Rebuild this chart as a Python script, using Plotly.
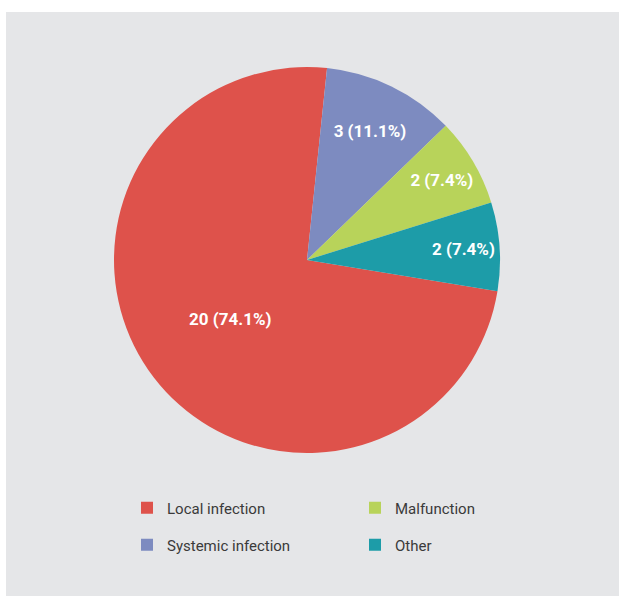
import plotly.graph_objects as go

labels = ["Local infection", "Systemic infection", "Malfunction", "Other"]
values = [20, 3, 2, 2]
colors = ["#de524b", "#7d8bc0", "#b8d35a", "#1d9ca8"]

# legend layout order (two rows)
legend_rows = [["Local infection", "Malfunction"], ["Systemic infection", "Other"]]

W, H = 619, 596
cx, cy, r = 307, 260, 193

fig = go.Figure()
fig.add_trace(go.Pie(
    labels=labels, values=values, sort=False, direction="clockwise",
    rotation=99.3,
    marker=dict(colors=colors, line=dict(width=0)),
    texttemplate="%{value} (%{percent:.1%})",
    textposition="inside", insidetextorientation="horizontal",
    textfont=dict(family="Roboto", size=17, color="white", weight="bold"),
    showlegend=False, hoverinfo="label+value+percent",
    domain=dict(x=[(cx - r) / W, (cx + r) / W], y=[1 - (cy + r) / H, 1 - (cy - r) / H]),
))

color_of = dict(zip(labels, colors))
for ri, row in enumerate(legend_rows):
    for lab in row:
        fig.add_trace(go.Scatter(
            x=[None], y=[None], mode="markers", name=lab,
            marker=dict(symbol="square", size=12, color=color_of[lab]),
            legend="legend" if ri == 0 else "legend2",
        ))

legend_common = dict(
    orientation="h", xanchor="left", yanchor="middle",
    font=dict(family="Roboto", size=15, color="#3a3a3a"),
    bgcolor="rgba(0,0,0,0)", entrywidth=183, entrywidthmode="pixels",
    itemclick=False, itemdoubleclick=False,
)
fig.update_layout(
    width=W, height=H, margin=dict(l=0, r=0, t=0, b=0),
    paper_bgcolor="white", plot_bgcolor="rgba(0,0,0,0)",
    xaxis=dict(visible=False), yaxis=dict(visible=False),
    legend=dict(x=127 / W, y=1 - 508 / H, **legend_common),
    legend2=dict(x=127 / W, y=1 - 545 / H, **legend_common),
    shapes=[dict(type="rect", xref="paper", yref="paper", x0=6 / W, x1=1, y0=0, y1=1 - 12 / H,
                 fillcolor="#e5e6e8", line=dict(width=0), layer="below")],
)

fig.write_html("out.html", config={"displayModeBar": False},
               post_script="document.body.style.margin='0px';")
